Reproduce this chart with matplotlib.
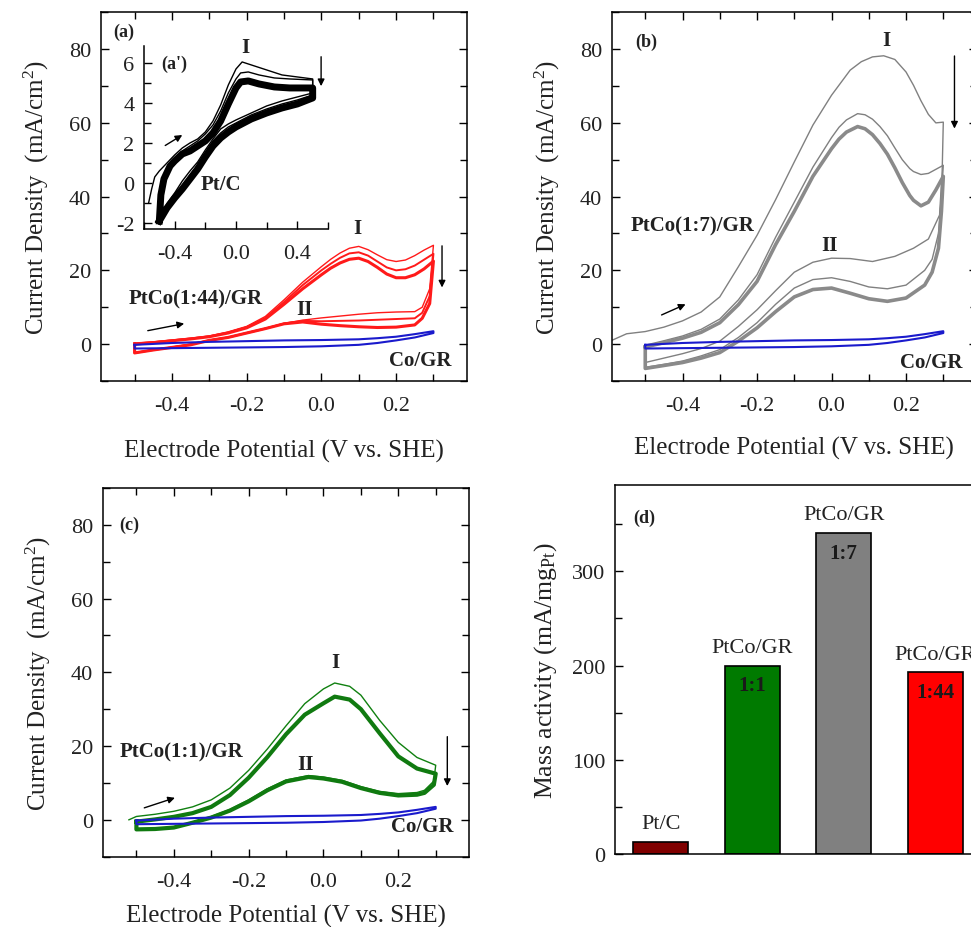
import matplotlib
matplotlib.use('Agg')
import matplotlib.pyplot as plt
from matplotlib.ticker import MultipleLocator

plt.rcParams['font.family'] = ['Liberation Serif', 'DejaVu Serif']
plt.rcParams['mathtext.fontset'] = 'custom'
plt.rcParams['mathtext.rm'] = 'Liberation Serif'
plt.rcParams['mathtext.it'] = 'Liberation Serif:italic'
plt.rcParams['mathtext.bf'] = 'Liberation Serif:bold'
plt.rcParams['axes.unicode_minus'] = False

TXT = '#222222'

# ---- Co/GR background loop (same in a, b, c)
co_v = [-0.5, -0.4, -0.3, -0.2, -0.1, 0.0, 0.1, 0.15, 0.2, 0.25, 0.3,
        0.3, 0.25, 0.2, 0.15, 0.1, 0.0, -0.1, -0.2, -0.3, -0.4, -0.5, -0.5]
co_j = [-0.2, 0.3, 0.6, 0.8, 1.0, 1.1, 1.3, 1.6, 2.0, 2.7, 3.5,
        3.0, 1.8, 1.0, 0.3, -0.2, -0.6, -0.8, -0.9, -1.0, -1.1, -1.2, -0.2]

# ---- (a) PtCo(1:44)/GR
a_fwd_v = [-0.5, -0.45, -0.4, -0.35, -0.3, -0.25, -0.2, -0.15, -0.1, -0.05, 0.0,
           0.025, 0.05, 0.075, 0.1, 0.125, 0.15, 0.175, 0.2, 0.225, 0.25, 0.275, 0.3]
a_rev_v = [0.3, 0.29, 0.27, 0.25, 0.2, 0.15, 0.1, 0.05, 0.0, -0.05, -0.1,
           -0.15, -0.2, -0.25, -0.3, -0.35, -0.4, -0.45, -0.5]
a1_fwd = [0.3, 0.6, 1.1, 1.6, 2.2, 3.3, 4.8, 7.5, 12.0, 16.8, 21.0,
          23.0, 24.7, 26.0, 26.5, 25.6, 24.2, 22.9, 22.4, 22.8, 24.0, 25.5, 26.8]
a1_rev = [26.8, 15.0, 10.0, 8.8, 8.7, 8.5, 8.1, 7.6, 7.1, 6.5, 5.6, 4.3, 3.1, 1.9, 1.1, 0.0, -0.8, -1.5, -2.3]
a2_fwd = [0.1, 0.5, 1.0, 1.5, 2.1, 3.1, 4.6, 7.1, 11.4, 16.0, 20.0,
          21.8, 23.4, 24.6, 24.9, 24.0, 22.4, 20.8, 20.0, 20.3, 21.3, 22.9, 24.5]
a2_rev = [24.5, 13.0, 8.5, 7.0, 6.8, 6.6, 6.4, 6.3, 6.2, 6.3, 5.6, 4.2, 3.0, 1.8, 1.0, -0.1, -0.9, -1.6, -2.4]
a3_fwd = [0.0, 0.4, 0.9, 1.4, 2.0, 3.0, 4.4, 6.8, 10.8, 15.0, 18.8,
          20.6, 22.0, 23.0, 23.3, 22.4, 20.8, 19.0, 18.0, 18.0, 18.8, 20.4, 22.5]
a3_rev = [22.5, 11.0, 7.0, 5.2, 4.6, 4.5, 4.7, 5.0, 5.4, 6.0, 5.5, 4.2, 3.0, 1.8, 1.0, -0.2, -0.9, -1.6, -2.4]

# ---- (a') Pt/C inset
p1_fwd_v = [-0.57, -0.55, -0.53, -0.5, -0.45, -0.4, -0.35, -0.3, -0.25, -0.2, -0.15,
            -0.1, -0.05, 0.0, 0.04, 0.1, 0.2, 0.3, 0.4, 0.5]
p1_fwd = [-1.0, -0.3, 0.3, 0.6, 1.0, 1.4, 1.75, 2.0, 2.2, 2.55, 3.1,
          3.9, 4.9, 5.7, 6.05, 5.9, 5.65, 5.4, 5.3, 5.2]
p1_rev_v = [0.5, 0.5, 0.4, 0.3, 0.2, 0.1, 0.0, -0.05, -0.1, -0.15, -0.2,
            -0.25, -0.3, -0.35, -0.4, -0.45, -0.5]
p1_rev = [5.2, 4.5, 4.3, 4.1, 3.85, 3.5, 3.15, 2.95, 2.7, 2.2, 1.65,
          1.05, 0.6, 0.1, -0.5, -1.03, -1.87]
p_fwd_v = [-0.5, -0.49, -0.47, -0.43, -0.4, -0.35, -0.3, -0.25, -0.2, -0.15, -0.1,
           -0.05, 0.0, 0.03, 0.08, 0.15, 0.25, 0.35, 0.5]
p2_fwd = [-1.9, -0.5, 0.35, 1.0, 1.25, 1.6, 1.85, 2.1, 2.45, 2.9, 3.6,
          4.5, 5.2, 5.5, 5.55, 5.4, 5.25, 5.2, 5.15]
p3_fwd = [-1.9, -0.6, 0.2, 0.85, 1.1, 1.45, 1.6, 1.85, 2.1, 2.5, 3.1,
          3.95, 4.75, 5.05, 5.1, 4.95, 4.8, 4.75, 4.75]
p_rev_v = [0.5, 0.5, 0.4, 0.3, 0.2, 0.1, 0.0, -0.05, -0.1, -0.15, -0.2,
           -0.25, -0.3, -0.35, -0.4, -0.45, -0.5]
p2_rev = [5.15, 4.4, 4.15, 3.95, 3.7, 3.4, 3.0, 2.8, 2.5, 2.1, 1.5,
          0.9, 0.4, -0.2, -0.65, -1.2, -1.9]
p3_rev = [4.75, 4.25, 3.95, 3.75, 3.5, 3.2, 2.8, 2.55, 2.25, 1.85, 1.3,
          0.7, 0.2, -0.3, -0.75, -1.25, -1.9]

# ---- (b) PtCo(1:7)/GR
b1_fwd_v = [-0.59, -0.55, -0.5, -0.45, -0.4, -0.35, -0.3, -0.25, -0.2, -0.15, -0.1,
            -0.05, 0.0, 0.05, 0.08, 0.11, 0.14, 0.17, 0.2, 0.22, 0.24, 0.26, 0.28, 0.3]
b1_fwd = [1.0, 2.8, 3.4, 4.6, 6.3, 8.7, 12.8, 21.0, 29.5, 39.2, 49.4,
          59.4, 67.5, 74.3, 76.6, 77.9, 78.2, 77.2, 73.8, 70.2, 66.0, 62.3, 60.0, 60.2]
b1_rev_v = [0.3, 0.297, 0.29, 0.26, 0.22, 0.17, 0.11, 0.05, 0.0, -0.05, -0.1,
            -0.15, -0.2, -0.25, -0.3, -0.35, -0.4, -0.45, -0.5]
b1_rev = [60.2, 47.0, 35.0, 28.5, 26.0, 23.8, 22.4, 23.2, 23.3, 22.2, 19.5,
          14.5, 9.3, 4.8, 0.8, -1.2, -2.6, -3.8, -5.0]
b_fwd_v = [-0.5, -0.45, -0.4, -0.35, -0.3, -0.25, -0.2, -0.15, -0.1, -0.05, 0.0,
           0.02, 0.04, 0.07, 0.09, 0.11, 0.13, 0.15, 0.17, 0.19, 0.21, 0.22, 0.24,
           0.26, 0.28, 0.3]
b2_fwd = [-0.3, 0.9, 2.2, 4.0, 6.8, 12.0, 18.8, 29.0, 38.5, 48.0, 56.0,
          58.8, 60.8, 62.5, 62.2, 61.0, 59.0, 56.5, 53.2, 50.0, 47.6, 46.8, 46.0,
          46.3, 47.4, 48.5]
b3_fwd = [-0.8, 0.4, 1.6, 3.2, 5.8, 10.7, 17.0, 27.0, 36.0, 45.5, 53.0,
          55.6, 57.5, 59.0, 58.4, 56.8, 54.4, 51.5, 47.8, 43.8, 40.3, 39.0, 37.5,
          38.5, 41.8, 45.5]
b_rev_v = [0.3, 0.295, 0.287, 0.27, 0.25, 0.2, 0.15, 0.1, 0.05, 0.0, -0.05,
           -0.1, -0.15, -0.2, -0.25, -0.3, -0.35, -0.4, -0.45, -0.5]
b2_rev = [48.5, 40.0, 30.0, 23.0, 20.0, 16.0, 15.0, 15.5, 17.0, 18.0, 17.5,
          15.2, 10.8, 5.8, 1.8, -1.5, -3.2, -4.6, -5.5, -6.3]
b3_rev = [45.5, 36.0, 26.0, 19.5, 16.0, 12.5, 11.6, 12.3, 13.8, 15.2, 14.8,
          12.8, 8.8, 4.4, 0.8, -2.3, -3.8, -5.0, -5.8, -6.6]

# ---- (c) PtCo(1:1)/GR
c1_fwd_v = [-0.52, -0.5, -0.45, -0.4, -0.35, -0.3, -0.25, -0.2, -0.15, -0.1,
            -0.05, 0.0, 0.03, 0.07, 0.1, 0.15, 0.2, 0.25, 0.3]
c1_fwd = [0.0, 0.9, 1.5, 2.3, 3.5, 5.4, 8.6, 13.4, 19.2, 25.5,
          31.5, 35.5, 37.1, 36.2, 33.8, 27.0, 21.0, 16.9, 14.8]
c_fwd_v = [-0.5, -0.45, -0.4, -0.35, -0.3, -0.25, -0.2, -0.15, -0.1, -0.05,
           0.0, 0.03, 0.07, 0.1, 0.15, 0.2, 0.25, 0.3]
c2_fwd = [-0.5, 0.1, 0.8, 1.8, 3.5, 6.7, 11.4, 17.0, 23.2, 28.5,
          31.6, 33.4, 32.6, 30.0, 23.5, 17.2, 13.9, 12.5]
c_rev_v = [0.3, 0.295, 0.27, 0.25, 0.2, 0.15, 0.1, 0.05, 0.0, -0.04, -0.1,
           -0.15, -0.2, -0.25, -0.3, -0.35, -0.4, -0.45, -0.5]
c1_rev = [14.8, 10.5, 8.0, 7.4, 7.1, 7.7, 9.0, 10.7, 11.6, 12.0, 10.8,
          8.4, 5.4, 2.8, 0.9, -0.6, -1.9, -2.4, -2.5]
c2_rev = [12.5, 9.5, 7.3, 6.8, 6.6, 7.3, 8.6, 10.3, 11.2, 11.6, 10.4,
          8.0, 5.0, 2.5, 0.6, -0.8, -2.1, -2.5, -2.6]

# ---- (d) mass activity
catalysts = ['Pt/C', 'PtCo/GR', 'PtCo/GR', 'PtCo/GR']
ratios = ['', '1:1', '1:7', '1:44']
mass_activity = [13, 200, 341, 193]
bar_colors = ['#800000', '#007a00', '#808080', '#ff0000']


def loop(ax, xf, yf, xr, yr, color, lw, close=True):
    xs = list(xf) + list(xr)
    ys = list(yf) + list(yr)
    if close:
        xs.append(xf[0])
        ys.append(yf[0])
    ax.plot(xs, ys, color=color, lw=lw, solid_joinstyle='round')


def style_cv(ax, xpad):
    ax.set_xlim(-0.59, 0.39)
    ax.set_ylim(-10, 90)
    ax.xaxis.set_major_locator(MultipleLocator(0.2))
    ax.xaxis.set_minor_locator(MultipleLocator(0.1))
    ax.yaxis.set_major_locator(MultipleLocator(20))
    ax.yaxis.set_minor_locator(MultipleLocator(10))
    ax.xaxis.set_major_formatter(lambda v, p: f'{v:.1f}')
    ax.tick_params(which='both', direction='in', top=True, right=True,
                   labelsize=16, labelcolor=TXT, width=1)
    ax.tick_params(which='major', length=6)
    ax.tick_params(which='minor', length=5)
    ax.tick_params(axis='x', pad=11)
    ax.tick_params(axis='y', pad=7)
    for s in ax.spines.values():
        s.set_linewidth(1.1)
    ax.set_ylabel('Current Density  (mA/cm$^2$)', fontsize=18, color=TXT, labelpad=13)
    ax.set_xlabel('Electrode Potential (V vs. SHE)', fontsize=18, color=TXT, labelpad=xpad)
    ax.plot(co_v, co_j, color='#1a1acc', lw=1.5)


def arrow(ax, x0, y0, x1, y1):
    ax.annotate('', xy=(x1, y1), xytext=(x0, y0),
                arrowprops=dict(arrowstyle='-|>', color='black', lw=1, mutation_scale=10))


def label(ax, x, y, s, ha='left', size=15, weight='bold'):
    ax.text(x, y, s, ha=ha, va='center', fontsize=size, fontweight=weight, color=TXT)


fig = plt.figure(figsize=(9.71, 9.28), dpi=100)
ax_a = fig.add_axes([0.104, 0.5884, 0.377, 0.3973])
ax_b = fig.add_axes([0.630, 0.5884, 0.376, 0.3973])
ax_c = fig.add_axes([0.1058, 0.0758, 0.3776, 0.3973])
ax_d = fig.add_axes([0.6334, 0.0787, 0.3767, 0.3979])
ax_in = fig.add_axes([0.1483, 0.7522, 0.1895, 0.1972])

# (a)
loop(ax_a, a_fwd_v, a1_fwd, a_rev_v, a1_rev, '#ff1a1a', 1.0)
loop(ax_a, a_fwd_v, a2_fwd, a_rev_v, a2_rev, '#ff1a1a', 1.4)
loop(ax_a, a_fwd_v, a3_fwd, a_rev_v, a3_rev, '#ff1a1a', 2.2)
style_cv(ax_a, 17)
label(ax_a, -0.557, 84.8, '(a)', size=13)
label(ax_a, 0.096, 31.4, 'I', ha='center')
label(ax_a, -0.045, 9.5, 'II', ha='center')
label(ax_a, -0.517, 12.5, 'PtCo(1:44)/GR')
label(ax_a, 0.181, -4.3, 'Co/GR')
arrow(ax_a, 0.323, 27.4, 0.323, 14.6)
arrow(ax_a, -0.472, 3.5, -0.36, 5.7)

# (a') inset
ax_in.set_facecolor('none')
loop(ax_in, p1_fwd_v, p1_fwd, p1_rev_v, p1_rev, 'black', 1.0, close=False)
loop(ax_in, p_fwd_v, p2_fwd, p_rev_v, p2_rev, 'black', 1.0)
loop(ax_in, p_fwd_v, p3_fwd, p_rev_v, p3_rev, 'black', 5.0)
ax_in.set_xlim(-0.6, 0.6)
ax_in.set_ylim(-2.3, 6.85)
ax_in.spines['top'].set_visible(False)
ax_in.spines['right'].set_visible(False)
ax_in.xaxis.set_major_locator(MultipleLocator(0.4))
ax_in.xaxis.set_minor_locator(MultipleLocator(0.2))
ax_in.yaxis.set_major_locator(MultipleLocator(2))
ax_in.yaxis.set_minor_locator(MultipleLocator(1))
ax_in.xaxis.set_major_formatter(lambda v, p: f'{v:.1f}')
ax_in.tick_params(which='both', direction='in', labelsize=16, labelcolor=TXT, width=1)
ax_in.tick_params(which='major', length=6)
ax_in.tick_params(which='minor', length=5)
ax_in.tick_params(axis='x', pad=11)
ax_in.tick_params(axis='y', pad=7)
for s in ax_in.spines.values():
    s.set_linewidth(1.1)
label(ax_in, -0.49, 5.97, "(a')", size=13)
label(ax_in, 0.058, 6.8, 'I', ha='center')
label(ax_in, -0.23, -0.03, 'Pt/C')
arrow(ax_in, 0.555, 6.45, 0.555, 4.7)
arrow(ax_in, -0.477, 1.8, -0.335, 2.47)

# (b)
loop(ax_b, b1_fwd_v, b1_fwd, b1_rev_v, b1_rev, '#808080', 1.0, close=False)
loop(ax_b, b_fwd_v, b2_fwd, b_rev_v, b2_rev, '#808080', 1.0)
loop(ax_b, b_fwd_v, b3_fwd, b_rev_v, b3_rev, '#8a8a8a', 2.6)
style_cv(ax_b, 15)
label(ax_b, -0.527, 82.1, '(b)', size=13)
label(ax_b, 0.146, 82.4, 'I', ha='center')
label(ax_b, -0.005, 26.8, 'II', ha='center')
label(ax_b, -0.538, 32.2, 'PtCo(1:7)/GR')
label(ax_b, 0.183, -4.9, 'Co/GR')
arrow(ax_b, 0.33, 78.9, 0.33, 57.7)
arrow(ax_b, -0.463, 7.6, -0.385, 11.1)

# (c)
loop(ax_c, c1_fwd_v, c1_fwd, c_rev_v, c1_rev, '#108010', 1.0, close=False)
loop(ax_c, c_fwd_v, c2_fwd, c_rev_v, c2_rev, '#107a10', 3.0)
style_cv(ax_c, 9)
label(ax_c, -0.545, 80.2, '(c)', size=13)
label(ax_c, 0.033, 42.8, 'I', ha='center')
label(ax_c, -0.048, 15.2, 'II', ha='center')
label(ax_c, -0.545, 18.4, 'PtCo(1:1)/GR')
label(ax_c, 0.181, -1.6, 'Co/GR')
arrow(ax_c, 0.331, 23.3, 0.331, 8.4)
arrow(ax_c, -0.486, 3.0, -0.39, 6.2)

# (d)
pos = range(len(catalysts))
ax_d.bar(pos, mass_activity, width=0.6, color=bar_colors, edgecolor='black', linewidth=1.2)
for i, (name, r, v) in enumerate(zip(catalysts, ratios, mass_activity)):
    ax_d.text(i, v + 19, name, ha='center', va='center', fontsize=16, color=TXT)
    if r:
        ax_d.text(i, v - 21, r, ha='center', va='center', fontsize=15,
                  fontweight='bold', color='#1a1a1a')
ax_d.set_xlim(-0.5, 3.5)
ax_d.set_ylim(0, 392)
ax_d.set_xticks([])
ax_d.yaxis.set_major_locator(MultipleLocator(100))
ax_d.yaxis.set_minor_locator(MultipleLocator(50))
ax_d.tick_params(which='both', direction='in', right=True, labelsize=16, labelcolor=TXT, width=1)
ax_d.tick_params(which='major', length=6)
ax_d.tick_params(which='minor', length=5)
ax_d.tick_params(axis='y', pad=7)
for s in ax_d.spines.values():
    s.set_linewidth(1.1)
ax_d.set_ylabel('Mass activity (mA/mg$_{\\mathrm{Pt}}$)', fontsize=18.5, color=TXT, labelpad=9)
label(ax_d, -0.3, 357.7, '(d)', size=13)

fig.savefig('out.png', dpi=100)
